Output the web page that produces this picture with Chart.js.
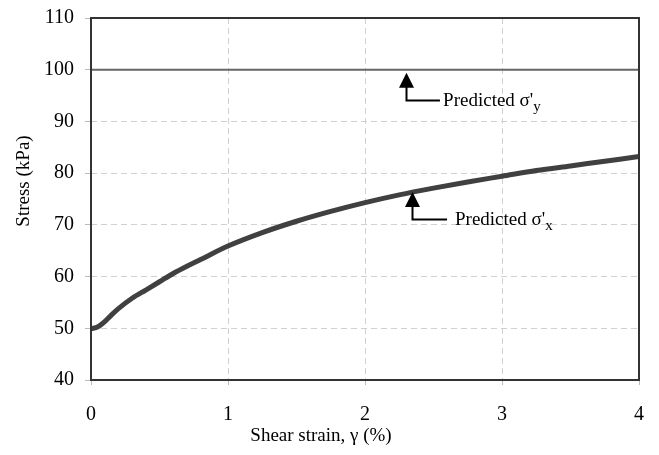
<!DOCTYPE html>
<html>
<head>
<meta charset="utf-8">
<script src="https://cdn.jsdelivr.net/npm/chart.js@4/dist/chart.umd.min.js"></script>
<style>
  html, body { margin: 0; padding: 0; background: #fff; }
  #wrap { width: 659px; height: 455px; }
</style>
</head>
<body>
<div id="wrap"><canvas id="stressChart"></canvas></div>
<script>
// --- data ---
const strain = [0, 0.05, 0.1, 0.15, 0.2, 0.3, 0.4, 0.5, 0.6, 0.7, 0.8, 1.0, 1.25, 1.5, 1.75, 2.0, 2.25, 2.5, 2.75, 3.0, 3.25, 3.5, 3.75, 4.0];
const stressX = [49.9, 50.3, 51.3, 52.6, 53.8, 55.8, 57.4, 59.0, 60.6, 62.0, 63.3, 65.9, 68.5, 70.7, 72.6, 74.3, 75.8, 77.1, 78.3, 79.4, 80.5, 81.4, 82.3, 83.2];
const predictedSy = 100;
const xTicks = [0, 1, 2, 3, 4];
const yTicks = [40, 50, 60, 70, 80, 90, 100, 110];
const xTitle = 'Shear strain, \u03b3 (%)';
const yTitle = 'Stress (kPa)';

// annotation arrows (data units): stem x, arrow tip, elbow, end of leader, label start
const arrows = [
  { x: 2.30, tip: 99.4, elbow: 94.1, end: 2.547, textX: 2.57, sub: 'y' },
  { x: 2.343, tip: 76.35, elbow: 71.13, end: 2.599, textX: 2.657, sub: 'x' }
];

const FONT = "'Liberation Serif', 'Times New Roman', serif";

const frameAndNotes = {
  id: 'frameAndNotes',
  afterDatasetsDraw(chart) {
    const { ctx, chartArea: a, scales } = chart;
    const sx = scales.x, sy = scales.y;
    ctx.save();
    // plot frame
    ctx.strokeStyle = '#333';
    ctx.lineWidth = 2;
    ctx.strokeRect(a.left, a.top, a.right - a.left, a.bottom - a.top);

    // arrows + labels
    arrows.forEach(ar => {
      const px = Math.round(sx.getPixelForValue(ar.x)) + 0.5;
      const tipY = sy.getPixelForValue(ar.tip);
      const elbowY = Math.round(sy.getPixelForValue(ar.elbow)) + 0.5;
      const endX = sx.getPixelForValue(ar.end);
      ctx.strokeStyle = '#000';
      ctx.lineWidth = 2;
      ctx.beginPath();
      ctx.moveTo(px, tipY + 12);
      ctx.lineTo(px, elbowY);
      ctx.lineTo(endX, elbowY);
      ctx.stroke();
      ctx.fillStyle = '#000';
      ctx.beginPath();
      ctx.moveTo(px, tipY);
      ctx.lineTo(px - 7.5, tipY + 15);
      ctx.lineTo(px + 7.5, tipY + 15);
      ctx.closePath();
      ctx.fill();

      ctx.font = '19px ' + FONT;
      ctx.textBaseline = 'middle';
      ctx.textAlign = 'left';
      const main = "Predicted \u03c3'";
      const tx = sx.getPixelForValue(ar.textX);
      ctx.fillText(main, tx, elbowY + 1);
      const w = ctx.measureText(main).width;
      ctx.font = '15px ' + FONT;
      ctx.fillText(ar.sub, tx + w, elbowY + 7);
    });

    // axis titles (offset from centre as in the original)
    ctx.fillStyle = '#000';
    ctx.font = '19px ' + FONT;
    ctx.textAlign = 'center';
    ctx.textBaseline = 'middle';
    ctx.fillText(xTitle, 321, 436);
    ctx.translate(24, 181);
    ctx.rotate(-Math.PI / 2);
    ctx.fillText(yTitle, 0, 0);
    ctx.restore();
  }
};

// fixed axis sizes, no label overhang padding
function fixBox(size, isX) {
  return s => {
    if (isX) s.height = size; else s.width = size;
    s.paddingTop = 0; s.paddingBottom = 0; s.paddingLeft = 0; s.paddingRight = 0;
  };
}

new Chart(document.getElementById('stressChart'), {
  type: 'scatter',
  data: {
    datasets: [{
      label: 'Predicted sigma x',
      data: strain.map((s, i) => ({ x: s, y: stressX[i] })),
      showLine: true,
      borderColor: '#404040',
      borderWidth: 5,
      pointRadius: 0,
      cubicInterpolationMode: 'monotone',
      fill: false
    }, {
      label: 'Predicted sigma y',
      data: [{ x: xTicks[0], y: predictedSy }, { x: xTicks[xTicks.length - 1], y: predictedSy }],
      showLine: true,
      borderColor: '#666',
      borderWidth: 2,
      pointRadius: 0,
      fill: false
    }]
  },
  options: {
    responsive: true,
    maintainAspectRatio: false,
    animation: false,
    layout: { padding: { top: 18, right: 20, left: 0, bottom: 0 } },
    plugins: { legend: { display: false }, tooltip: { enabled: false } },
    scales: {
      x: {
        type: 'linear',
        min: 0, max: 4,
        afterBuildTicks: s => { s.ticks = xTicks.map(v => ({ value: v })); },
        afterFit: fixBox(75, true),
        grid: { color: '#d0d0d0', lineWidth: 1, tickLength: 5, tickColor: '#bbb' },
        border: { display: false, dash: [6, 4] },
        ticks: { color: '#000', font: { family: FONT, size: 20 }, padding: 18, maxRotation: 0 },
        title: { display: false }
      },
      y: {
        type: 'linear',
        min: 40, max: 110,
        afterBuildTicks: s => { s.ticks = yTicks.map(v => ({ value: v })); },
        afterFit: fixBox(91, false),
        grid: { color: '#d0d0d0', lineWidth: 1, tickLength: 6, tickColor: '#bbb' },
        border: { display: false, dash: [6, 4] },
        ticks: { color: '#000', font: { family: FONT, size: 20 }, padding: 11 },
        title: { display: false }
      }
    }
  },
  plugins: [frameAndNotes]
});
</script>
</body>
</html>
